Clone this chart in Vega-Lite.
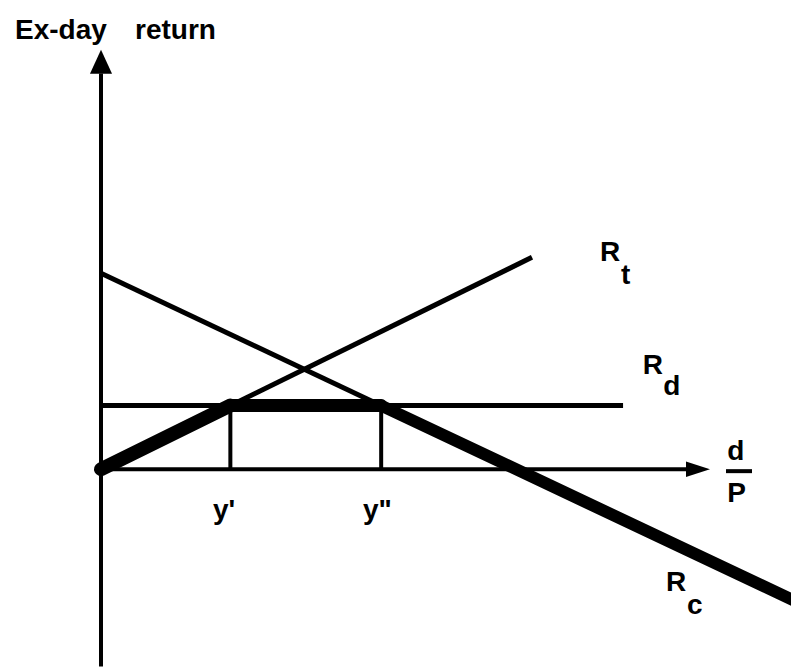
{
  "$schema": "https://vega.github.io/schema/vega-lite/v6.json",
  "width": 791,
  "height": 669,
  "padding": 0,
  "autosize": {"type": "fit", "contains": "padding"},
  "background": "white",
  "config": {"view": {"stroke": null}},
  "datasets": {
    "curves": [
      {"line": "Rt", "x": 0, "y": 0},
      {"line": "Rt", "x": 6.53, "y": 3.33},
      {"line": "fall", "x": 0, "y": 3.08},
      {"line": "fall", "x": 10.6, "y": -2.114},
      {"line": "Rd", "x": 0, "y": 1},
      {"line": "Rd", "x": 7.91, "y": 1}
    ],
    "rc": [
      {"part": "rise", "x": 0, "y": 0},
      {"part": "rise", "x": 1.96, "y": 1},
      {"part": "flat", "x": 1.96, "y": 1},
      {"part": "flat", "x": 4.245, "y": 1},
      {"part": "drop", "x": 4.245, "y": 1},
      {"part": "drop", "x": 10.6, "y": -2.114}
    ],
    "vrules": [
      {"name": "y-axis", "x": 0, "y": -3.1, "y2": 6.22},
      {"name": "y'", "x": 1.96, "y": 0, "y2": 1},
      {"name": "y''", "x": 4.245, "y": 0, "y2": 1}
    ],
    "hrules": [
      {"name": "x-axis", "x": 0, "x2": 8.95, "y": 0},
      {"name": "fraction", "x": 9.47, "x2": 9.864, "y": -0.031}
    ],
    "arrows": [
      {"dir": "up", "x": 0, "y": 6.406},
      {"dir": "right", "x": 9.045, "y": 0}
    ],
    "labels": [
      {"text": "Ex-day", "x": -1.303, "y": 6.766},
      {"text": "return", "x": 0.515, "y": 6.766},
      {"text": "y'", "x": 1.697, "y": -0.781},
      {"text": "y\"", "x": 3.97, "y": -0.781},
      {"text": "R", "x": 7.56, "y": 3.266},
      {"text": "t", "x": 7.88, "y": 2.906},
      {"text": "R", "x": 8.21, "y": 1.5},
      {"text": "d", "x": 8.52, "y": 1.172},
      {"text": "d", "x": 9.49, "y": 0.141},
      {"text": "P", "x": 9.49, "y": -0.516},
      {"text": "R", "x": 8.56, "y": -1.922},
      {"text": "c", "x": 8.88, "y": -2.281}
    ]
  },
  "encoding": {
    "x": {"field": "x", "type": "quantitative", "axis": null,
          "scale": {"domain": [-1.5303, 10.4545], "nice": false, "zero": false}},
    "y": {"field": "y", "type": "quantitative", "axis": null,
          "scale": {"domain": [-3.078, 7.375], "nice": false, "zero": false}}
  },
  "layer": [
    {
      "data": {"name": "curves"},
      "mark": {"type": "line", "color": "black", "strokeWidth": 5, "clip": true},
      "encoding": {"detail": {"field": "line", "type": "nominal"}}
    },
    {
      "data": {"name": "vrules"},
      "mark": {"type": "rule", "color": "black", "strokeWidth": 4},
      "encoding": {"y2": {"field": "y2"}}
    },
    {
      "data": {"name": "hrules"},
      "mark": {"type": "rule", "color": "black", "strokeWidth": 4},
      "encoding": {"x2": {"field": "x2"}}
    },
    {
      "data": {"name": "rc"},
      "mark": {"type": "line", "color": "black", "strokeCap": "round", "clip": true},
      "encoding": {
        "detail": {"field": "part", "type": "nominal"},
        "strokeWidth": {"field": "part", "type": "ordinal", "legend": null,
                        "scale": {"domain": ["rise", "flat", "drop"], "range": [14, 12, 18]}}
      }
    },
    {
      "data": {"name": "arrows"},
      "mark": {"type": "point", "filled": true, "color": "black", "opacity": 1, "size": 576, "strokeWidth": 0},
      "encoding": {
        "shape": {"field": "dir", "type": "nominal", "legend": null,
                  "scale": {"domain": ["up", "right"],
                            "range": ["M0,-1L0.92,1L-0.92,1Z", "M1,0L-1,-0.65L-1,0.65Z"]}}
      }
    },
    {
      "data": {"name": "labels"},
      "mark": {"type": "text", "align": "left", "baseline": "alphabetic",
               "font": "Liberation Sans", "fontWeight": "bold", "fontSize": 28, "color": "black"},
      "encoding": {"text": {"field": "text"}}
    }
  ]
}
